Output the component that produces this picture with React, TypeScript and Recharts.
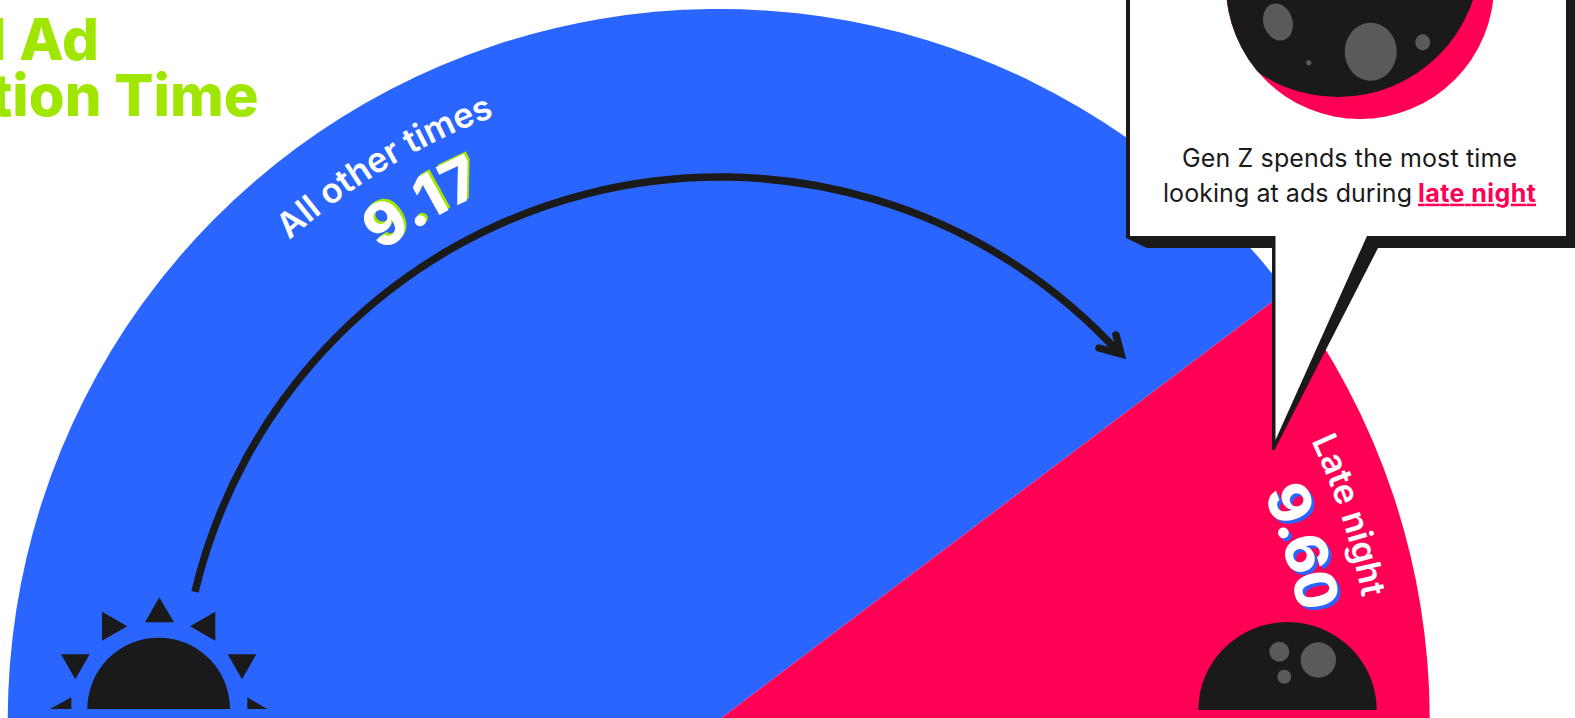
import React from 'react';
import { PieChart, Pie, Cell } from 'recharts';

// Daypart share of the clock, drawn as a half dial
const dayparts = ['All other times', 'Late night'];
const shareOfDay = [79.4, 20.6];
const attentionSeconds = ['9.17', '9.60'];

const titleLines = ['Total Ad', 'Attention Time'];
const calloutLead = ['Gen Z spends the most time', 'looking at ads during'];
const calloutHighlight = 'late night';

const INK = '#1a1a1a';
const BLUE = '#2b65ff';
const RED = '#ff0055';
const LIME = '#a0e600';
const CRATER = '#5a5a5a';

const WIDTH = 1575;
const HEIGHT = 718;
const DIAL_X = 718.75;
const DIAL_Y = 720;
const DIAL_R = 711;
const HAND_X = 720;
const HAND_Y = 718;
const FONT = 'Inter, sans-serif';

const sliceColors = [BLUE, RED];
const numberShadow = [
  { color: LIME, dx: 2, dy: -2.5 },
  { color: BLUE, dx: 3, dy: 3 },
];
// where each daypart's curved caption sits on the dial
const captionPlacement = [
  { nameAngle: 121.1, valueAngle: 119.8, nameR: 644, valueR: 577, valueSize: 60, valueSpacing: 1.5, tabular: false },
  { nameAngle: 18, valueAngle: 16.6, nameR: 655, valueR: 590, valueSize: 58, valueSpacing: -1, tabular: true },
];

const chartData = dayparts.map((name, i) => ({ name, share: shareOfDay[i], seconds: attentionSeconds[i] }));

const polar = (r: number, deg: number, cx: number, cy: number) => {
  const rad = (deg * Math.PI) / 180;
  return `${cx + r * Math.cos(rad)} ${cy - r * Math.sin(rad)}`;
};

// clockwise arc, so text on it reads along the rim
const arcPath = (cx: number, cy: number, r: number, mid: number, span = 50) =>
  `M ${polar(r, mid + span, cx, cy)} A ${r} ${r} 0 0 1 ${polar(r, mid - span, cx, cy)}`;

const CurvedText = ({ id, d, text, size, weight, fill, spacing, tabular }: any) => (
  <g>
    <path id={id} d={d} fill="none" stroke="none" />
    <text
      fontFamily={FONT}
      fontSize={size}
      fontWeight={weight}
      fill={fill}
      letterSpacing={spacing}
      textAnchor="middle"
      style={tabular ? { fontVariantNumeric: 'tabular-nums' } : undefined}
    >
      <textPath href={`#${id}`} startOffset="50%">
        {text}
      </textPath>
    </text>
  </g>
);

const renderCaption = ({ cx, cy, index }: any) => {
  const { nameAngle, valueAngle, nameR, valueR, valueSize, valueSpacing, tabular } = captionPlacement[index];
  const shadow = numberShadow[index];
  const valuePath = arcPath(cx, cy, valueR, valueAngle);
  const valueProps = { d: valuePath, text: attentionSeconds[index], size: valueSize, weight: 800, spacing: valueSpacing, tabular };
  return (
    <g key={dayparts[index]}>
      <CurvedText id={`name-${index}`} d={arcPath(cx, cy, nameR, nameAngle)} text={dayparts[index]} size={34.5} weight={600} fill="#fff" />
      <g transform={`translate(${shadow.dx} ${shadow.dy})`}>
        <CurvedText id={`value-shadow-${index}`} fill={shadow.color} {...valueProps} />
      </g>
      <CurvedText id={`value-${index}`} fill="#fff" {...valueProps} />
    </g>
  );
};

const Sun = () => (
  <g fill={INK}>
    <path d="M87.3 709 A71.3 71.3 0 0 1 230 709 Z" />
    <polygon points="159.3,597.3 145,622.3 174,622.3" />
    <polygon points="102,611.7 102,640.7 127.3,626.3" />
    <polygon points="215.3,611.7 215.3,640.7 190,626.3" />
    <polygon points="61,654.3 89.7,654.3 75.3,679.3" />
    <polygon points="227.7,654.3 256.3,654.3 242,679.3" />
    <polygon points="71.3,697.3 71.3,709 50,709" />
    <polygon points="247.3,697.3 247.3,709 267.3,709" />
  </g>
);

const SmallMoon = () => (
  <g>
    <path d="M1198.3 710 A89.2 88 0 0 1 1376.7 710 Z" fill={INK} />
    <circle cx={1318.3} cy={660} r={17.7} fill={CRATER} />
    <circle cx={1279.3} cy={651.7} r={10} fill={CRATER} />
    <circle cx={1284.3} cy={676.7} r={7} fill={CRATER} />
  </g>
);

const Callout = () => (
  <g>
    <polygon
      points="1126,0 1575,0 1575,248 1378,248 1274.5,450 1272,450 1272,248 1147,248 1126,238"
      fill={INK}
    />
    <polygon points="1130,0 1566,0 1566,236 1367,236 1275.5,440 1275.5,236 1130,236" fill="#fff" />
    <clipPath id="moon-clip">
      <circle cx={1360} cy={-15} r={134} />
    </clipPath>
    <circle cx={1360} cy={-15} r={134} fill={RED} />
    <circle cx={1338} cy={-45.4} r={142.4} fill={INK} clipPath="url(#moon-clip)" />
    <ellipse cx={1278} cy={22} rx={14.5} ry={19} fill={CRATER} transform="rotate(-18 1278 22)" />
    <ellipse cx={1370.7} cy={51.7} rx={26} ry={29} fill={CRATER} />
    <ellipse cx={1422.7} cy={42.3} rx={7.5} ry={8} fill={CRATER} />
    <circle cx={1308.7} cy={62.7} r={2.7} fill={CRATER} />
    <text x={1182} y={166.7} fontFamily={FONT} fontSize={25} fill={INK} textLength={335}>
      {calloutLead[0]}
    </text>
    <text x={1163} y={201.7} fontFamily={FONT} fontSize={25} fill={INK} textLength={249}>
      {calloutLead[1]}
    </text>
    <text x={1418} y={201.7} fontFamily={FONT} fontSize={25} fontWeight={700} fill={RED} textDecoration="underline" textLength={118}>
      {calloutHighlight}
    </text>
  </g>
);

export default function App() {
  return (
    <div style={{ position: 'absolute', left: 0, top: 0, width: WIDTH, height: HEIGHT, overflow: 'hidden', background: '#fff' }}>
      <PieChart width={WIDTH} height={HEIGHT} margin={{ top: 0, right: 0, bottom: 0, left: 0 }}>
        <Pie
          data={chartData}
          dataKey="share"
          nameKey="name"
          cx={DIAL_X}
          cy={DIAL_Y}
          innerRadius={0}
          outerRadius={DIAL_R}
          startAngle={180}
          endAngle={0}
          stroke="none"
          label={renderCaption}
          labelLine={false}
          isAnimationActive={false}
        >
          {chartData.map((d, i) => (
            <Cell key={d.name} fill={sliceColors[i]} />
          ))}
        </Pie>
      </PieChart>
      <svg width={WIDTH} height={HEIGHT} style={{ position: 'absolute', left: 0, top: 0 }}>
        <text x={99} y={60} textAnchor="end" fontFamily={FONT} fontSize={58} fontWeight={800} fill={LIME}>
          {titleLines[0]}
        </text>
        <text x={258.5} y={116} textAnchor="end" fontFamily={FONT} fontSize={58} fontWeight={800} fill={LIME}>
          {titleLines[1]}
        </text>
        {/* clock hand sweeping from morning round to late night */}
        <path
          d={`M ${polar(540, 166.5, HAND_X, HAND_Y)} A 540 540 0 0 1 1120 354`}
          fill="none"
          stroke={INK}
          strokeWidth={7.5}
        />
        <path
          d="M1116 335 L1121 354 L1099 348"
          fill="none"
          stroke={INK}
          strokeWidth={7.5}
          strokeLinecap="round"
          strokeLinejoin="miter"
        />
        <Sun />
        <SmallMoon />
        <Callout />
      </svg>
    </div>
  );
}
